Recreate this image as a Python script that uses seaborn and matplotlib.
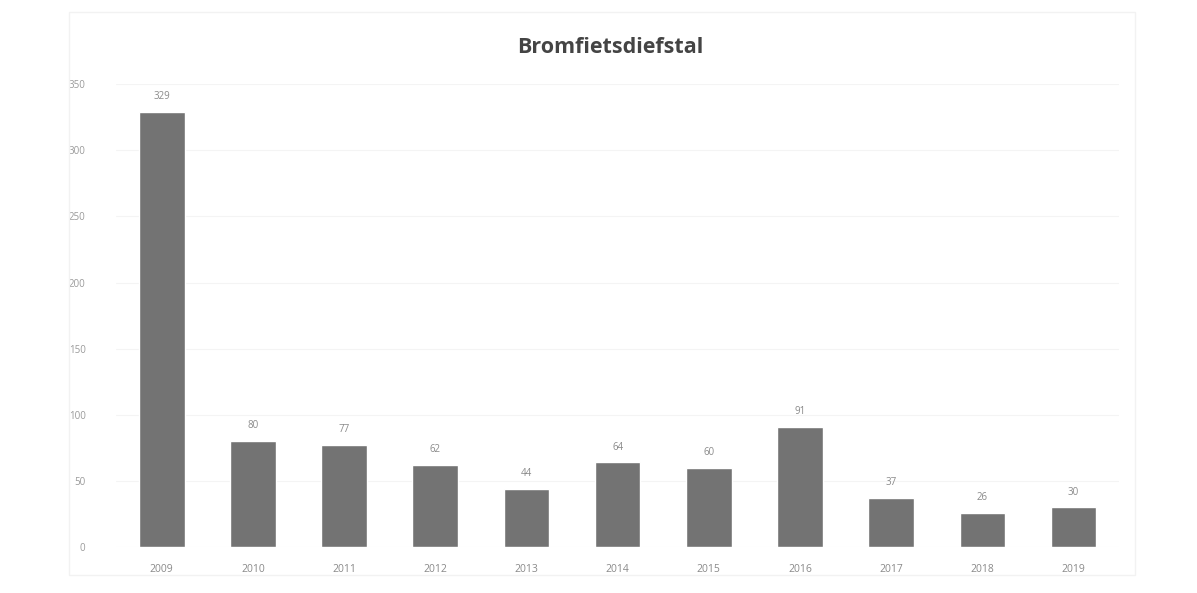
import matplotlib
matplotlib.use("Agg")
import matplotlib.pyplot as plt
import seaborn as sns
import pandas as pd

jaren = ["2009", "2010", "2011", "2012", "2013", "2014", "2015", "2016", "2017", "2018", "2019"]
aantallen = [329, 80, 77, 62, 44, 64, 60, 91, 37, 26, 30]
y_ticks = [0, 50, 100, 150, 200, 250, 300, 350]

df = pd.DataFrame({"Jaar": jaren, "Aantal": aantallen})

sns.set_theme(style="white")
plt.rcParams['font.family'] = ['Open Sans', 'DejaVu Sans']

fig = plt.figure(figsize=(11.97, 5.93), dpi=100)
# lichte kader rond het grafiekgebied
fig.patches.append(plt.Rectangle((0.058, 0.03), 0.89, 0.95, transform=fig.transFigure,
                                 fill=False, edgecolor="#f2f2f2", linewidth=1))
ax = fig.add_axes([0.097, 0.0776, 0.838, 0.7804])

sns.barplot(data=df, x="Jaar", y="Aantal", color="#737373", saturation=1, width=0.5, ax=ax)

ax.set_ylim(0, 350)
ax.set_xlim(-0.5, 10.5)
ax.set_yticks(y_ticks)
ax.set_yticklabels([str(t) for t in y_ticks], fontsize=7, color="#9a9a9a")
ax.tick_params(axis="x", labelsize=7.5, colors="#8a8a8a", length=0, pad=12)
ax.tick_params(axis="y", length=0, pad=22)
ax.grid(axis="y", color="#f4f4f4", linewidth=0.8)
ax.set_axisbelow(True)
for s in ax.spines.values():
    s.set_visible(False)
ax.set_xlabel("")
ax.set_ylabel("")

for i, v in enumerate(aantallen):
    ax.annotate(str(v), (i, v), xytext=(0, 7), textcoords="offset points",
                ha="center", va="bottom", fontsize=7, color="#8a8a8a")

fig.text(0.51, 0.92, "Bromfietsdiefstal", ha="center", va="center",
         fontsize=15.5, fontweight="bold", color="#444444")

fig.savefig("out.png", dpi=100)
plt.close(fig)
